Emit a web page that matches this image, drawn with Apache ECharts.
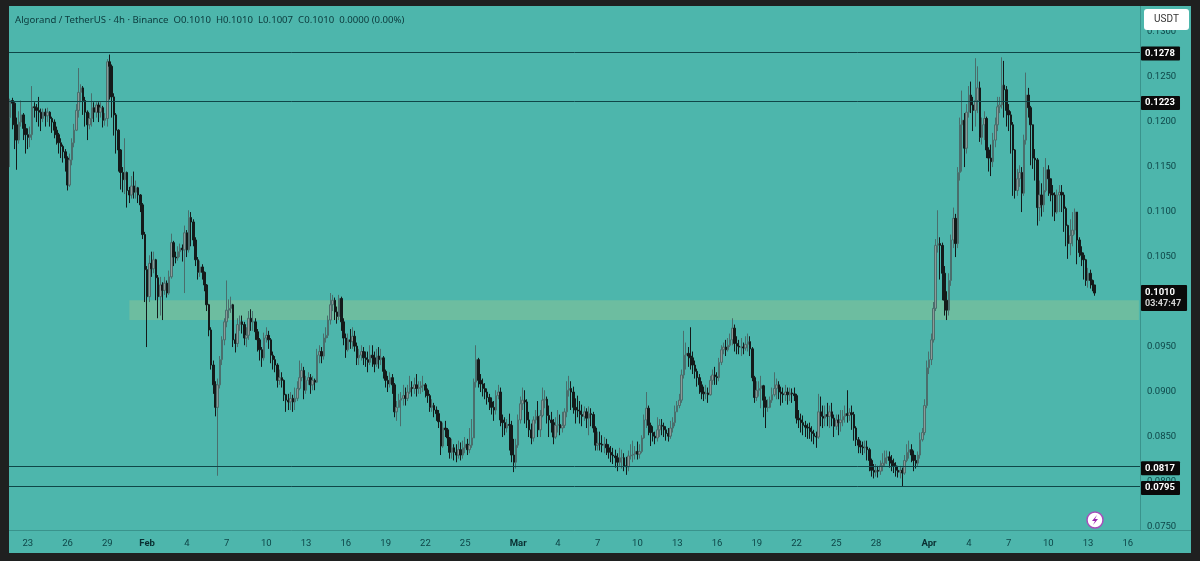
<!DOCTYPE html>
<html>
<head>
<meta charset="utf-8">
<title>ALGOUSDT 4h</title>
<script src="https://cdn.jsdelivr.net/npm/echarts@6/dist/echarts.min.js"></script>
<style>
	html, body { margin: 0; padding: 0; background: #1f2020; }
	#chart { position: absolute; left: 9px; top: 6px; width: 1182px; height: 547px; background: #4db6ac; }
</style>
</head>
<body>
<div id="chart"></div>
<script>
// prices are in ten-thousandths of a USDT, one 4h bar per entry, open = previous close
var firstOpen = 1205;
var closes = [
	1224,1221,1197,1180,1200,1208,1193,1186,1183,1186,
	1217,1216,1213,1211,1204,1211,1207,1211,1204,1200,
	1191,1186,1177,1173,1167,1160,1130,1158,1177,1191,
	1213,1233,1238,1224,1211,1197,1204,1216,1211,1219,
	1211,1216,1202,1204,1267,1262,1228,1208,1191,1169,
	1144,1136,1144,1124,1119,1129,1122,1127,1119,1108,
	1075,1036,1006,1043,1037,1047,1027,1006,1019,1013,
	1021,1010,1028,1066,1050,1049,1056,1060,1058,1077,
	1058,1094,1089,1069,1047,1033,1039,1033,1019,997,
	969,930,908,883,908,936,958,978,991,993,
	997,958,954,975,978,975,960,963,982,978,
	978,967,958,947,938,960,963,958,941,936,
	930,913,916,913,897,891,889,893,889,893,
	904,916,924,902,913,916,908,913,911,941,
	945,940,960,963,980,997,1002,989,984,1004,
	978,960,947,958,956,962,951,938,941,945,
	938,936,933,941,938,931,940,936,938,923,
	913,909,916,908,878,883,891,893,896,893,
	900,905,904,908,904,905,907,908,902,896,
	883,885,880,876,867,840,860,858,849,833,
	838,833,830,836,830,838,842,836,841,849,
	911,936,913,909,904,900,894,889,883,880,
	896,900,869,866,860,864,863,830,822,841,
	869,887,891,889,869,858,849,869,873,858,
	874,891,892,874,869,866,850,863,864,860,
	863,878,902,904,900,883,880,879,875,873,
	878,871,876,875,860,841,843,842,841,842,
	838,833,830,829,827,822,827,827,818,817,
	829,830,831,834,831,834,849,869,882,863,
	855,851,849,858,863,862,858,854,851,860,
	866,878,885,891,919,941,943,940,938,930,
	923,916,908,900,898,899,897,913,919,917,
	916,933,947,950,947,952,958,971,954,951,
	950,950,949,953,956,948,916,894,902,904,
	907,891,883,883,891,897,904,908,900,898,
	897,900,897,899,898,896,871,869,866,863,
	861,860,856,854,851,850,878,873,871,875,
	873,878,871,862,869,866,869,873,876,874,
	877,875,860,847,841,839,838,839,836,824,
	813,811,813,812,818,821,827,828,824,821,
	818,813,811,813,810,824,833,836,830,824,
	821,830,847,855,885,927,936,958,993,1063,
	1065,1063,1032,1002,991,1024,1069,1093,1065,1144,
	1197,1202,1171,1211,1230,1219,1213,1224,1238,1183,
	1197,1204,1169,1160,1156,1180,1197,1217,1219,1241,
	1236,1213,1208,1197,1169,1124,1137,1144,1121,1180,
	1230,1216,1197,1160,1158,1105,1119,1108,1124,1147,
	1137,1121,1119,1100,1119,1122,1119,1104,1085,1065,
	1074,1080,1100,1069,1055,1052,1047,1024,1032,1024,
	1019,1010
];
var highs = [
	1226,1227,1222,1205,1212,1224,1210,1198,1193,1195,
	1240,1222,1220,1228,1215,1215,1215,1216,1212,1206,
	1203,1195,1188,1182,1175,1170,1162,1165,1182,1198,
	1220,1260,1242,1240,1228,1213,1210,1232,1222,1222,
	1222,1222,1218,1210,1270,1275,1264,1232,1210,1192,
	1170,1150,1182,1145,1128,1140,1145,1135,1128,1120,
	1110,1078,1040,1052,1056,1056,1048,1030,1028,1022,
	1028,1024,1035,1076,1068,1056,1062,1065,1064,1085,
	1080,1102,1100,1092,1072,1050,1046,1042,1034,1020,
	998,972,935,912,915,940,962,982,1024,1003,
	1006,998,965,982,985,985,978,972,990,992,
	990,982,970,960,950,966,972,968,960,945,
	940,932,925,922,914,898,898,900,897,905,
	912,935,932,928,918,922,920,918,915,948,
	952,950,965,972,985,1010,1008,1005,995,1008,
	1006,982,965,965,970,972,968,955,948,952,
	950,945,945,952,952,945,948,950,948,940,
	925,918,922,920,910,890,898,900,908,905,
	908,918,912,916,920,912,912,918,910,904,
	898,892,888,884,880,868,866,868,860,850,
	848,842,842,846,844,846,850,848,860,870,
	915,952,938,920,915,910,904,898,894,890,
	902,908,905,875,872,870,876,868,848,848,
	875,895,905,902,892,878,865,873,880,890,
	880,905,902,895,885,878,870,872,880,875,
	878,882,912,918,912,906,893,896,890,886,
	884,882,884,882,878,862,856,856,852,850,
	848,842,840,838,836,832,838,836,832,828,
	835,842,846,840,845,842,852,875,900,885,
	866,862,856,872,870,870,866,862,860,868,
	872,885,890,898,925,968,955,950,972,945,
	935,926,920,912,906,908,905,918,925,928,
	922,938,952,955,958,960,965,982,975,962,
	958,960,955,962,965,962,950,918,912,912,
	918,908,895,892,895,905,922,915,912,906,
	905,908,905,905,904,905,898,880,876,874,
	868,865,866,862,858,856,898,895,885,885,
	888,885,888,875,875,875,880,880,885,902,
	882,885,878,862,850,846,845,846,846,838,
	826,820,820,818,824,832,835,835,834,830,
	826,822,818,818,816,830,842,846,842,835,
	830,834,855,860,892,935,945,965,1000,1070,
	1102,1072,1066,1040,1012,1032,1075,1105,1098,1150,
	1205,1235,1210,1220,1240,1245,1228,1271,1262,1245,
	1205,1212,1206,1172,1175,1188,1205,1228,1228,1272,
	1268,1240,1220,1212,1200,1170,1148,1152,1150,1186,
	1255,1238,1218,1195,1170,1160,1135,1132,1150,1160,
	1152,1136,1130,1122,1125,1130,1130,1122,1106,1086,
	1092,1100,1104,1100,1072,1062,1055,1048,1038,1036,
	1025,1015
];
var lows = [
	1150,1192,1170,1147,1176,1195,1180,1165,1170,1172,
	1180,1205,1200,1195,1190,1200,1195,1200,1195,1188,
	1182,1175,1165,1160,1155,1145,1124,1128,1152,1172,
	1190,1205,1222,1208,1195,1180,1192,1195,1200,1205,
	1200,1205,1194,1196,1195,1225,1205,1185,1165,1145,
	1125,1122,1120,1105,1110,1115,1115,1115,1110,1100,
	1070,1000,950,1000,1028,1032,1002,982,985,980,
	1008,1005,1008,1026,1040,1043,1046,1050,1045,1010,
	1050,1055,1062,1062,1040,1025,1028,1025,1012,990,
	962,925,898,873,807,904,930,952,972,982,
	988,950,944,950,968,965,952,950,958,968,
	968,958,945,935,928,935,955,948,932,925,
	922,905,908,905,890,878,880,880,878,880,
	890,902,912,892,898,908,898,902,902,910,
	932,932,936,955,960,975,990,980,976,980,
	968,952,938,945,948,948,945,930,930,935,
	930,928,922,930,928,922,928,926,930,915,
	905,900,905,898,872,868,885,862,885,885,
	890,898,895,898,895,898,898,900,894,888,
	878,878,872,868,860,830,838,850,840,826,
	826,824,822,826,824,826,832,830,832,838,
	849,905,905,900,895,892,886,880,875,868,
	875,892,862,850,852,855,835,822,811,815,
	838,865,880,865,860,850,842,845,865,850,
	850,872,882,865,850,855,842,848,855,852,
	855,860,872,895,880,876,865,872,865,862,
	868,860,852,862,855,835,835,835,833,832,
	830,826,822,820,816,812,818,815,812,808,
	812,825,822,825,825,826,832,848,860,852,
	840,845,842,845,850,852,850,846,845,848,
	855,862,878,882,888,915,925,928,925,920,
	915,906,898,892,890,892,888,896,908,908,
	908,912,930,942,940,945,950,952,945,942,
	942,940,942,946,945,940,912,888,890,895,
	882,872,860,878,882,888,895,892,892,885,
	888,890,886,890,888,890,865,860,855,852,
	850,848,848,845,842,838,848,862,860,862,
	862,860,862,850,858,852,856,862,866,866,
	868,858,846,840,832,832,830,832,824,812,
	806,804,806,805,808,812,818,820,816,812,
	810,806,805,804,795,808,822,826,822,812,
	815,818,826,845,852,882,920,930,955,990,
	1055,1025,1002,985,980,985,1018,1060,1050,1060,
	1135,1145,1150,1165,1205,1210,1190,1195,1210,1178,
	1175,1180,1160,1145,1140,1150,1172,1190,1210,1215,
	1205,1195,1190,1165,1118,1115,1118,1128,1100,1118,
	1175,1205,1152,1148,1135,1085,1090,1095,1100,1122,
	1118,1112,1095,1090,1098,1100,1100,1078,1062,1048,
	1052,1062,1075,1042,1050,1040,1025,1018,1016,1015,
	1012,1007
];

var tickLabels = ['23', '26', '29', 'Feb', '4', '7', '10', '13', '16', '19', '22', '25', 'Mar', '4', '7', '10', '13', '16', '19', '22', '25', '28', 'Apr', '4', '7', '10', '13', '16'];
var tickDates = ['01-23', '01-26', '01-29', '02-01', '02-04', '02-07', '02-10', '02-13', '02-16', '02-19', '02-22', '02-25', '03-01', '03-04', '03-07', '03-10', '03-13', '03-16', '03-19', '03-22', '03-25', '03-28', '04-01', '04-04', '04-07', '04-10', '04-13', '04-16'];
var priceTicks = [0.075, 0.08, 0.085, 0.09, 0.095, 0.1, 0.105, 0.11, 0.115, 0.12, 0.125, 0.13];
var levels = [0.1278, 0.1223, 0.0817, 0.0795];
var zone = [0.1002, 0.0980];
var lastPrice = 0.1010;
var countdown = '03:47:47';
var titleText = 'Algorand / TetherUS · 4h · Binance  O0.1010  H0.1010  L0.1007  C0.1010  0.0000 (0.00%)';

var slotCount = 512; // axis runs on past the last bar
var categories = [];
var tickByDate = {};
tickDates.forEach(function(d, i) {
	tickByDate[d] = tickLabels[i];
});
for (var s = 0; s < slotCount; s++) {
	var t = new Date(Date.UTC(2026, 0, 21, 16 + s * 4));
	var mm = ('0' + (t.getUTCMonth() + 1)).slice(-2);
	var dd = ('0' + t.getUTCDate()).slice(-2);
	var hh = ('0' + t.getUTCHours()).slice(-2);
	categories.push(mm + '-' + dd + ' ' + hh);
}

function tickFor(cat) {
	return cat.slice(-2) === '00' ? tickByDate[cat.slice(0, 5)] : undefined;
}

var candles = closes.map(function(c, i) {
	var o = i ? closes[i - 1] : firstOpen;
	return [o / 10000, c / 10000, lows[i] / 10000, highs[i] / 10000];
});

var inkColor = '#0e4648';

var levelLines = levels.map(function(v) {
	return {
		yAxis: v,
		label: {
			offset: [0, 1.5],
			formatter: v.toFixed(4)
		}
	};
});
levelLines.push({
	yAxis: lastPrice,
	lineStyle: {
		color: 'rgba(0,0,0,0)'
	},
	label: {
		offset: [0, 5],
		padding: [2, 6, 2, 4],
		lineHeight: 11,
		formatter: '{p|' + lastPrice.toFixed(4) + '}\n{t|' + countdown + '}',
		rich: {
			p: { color: '#fff', fontSize: 9.5, fontWeight: 'bold', fontFamily: 'Roboto' },
			t: { color: '#d5d5d5', fontSize: 9, fontFamily: 'Roboto' }
		}
	}
});

var chart = echarts.init(document.getElementById('chart'));
chart.setOption({
	animation: false,
	textStyle: {
		fontFamily: 'Roboto'
	},
	title: {
		text: titleText,
		left: 6,
		top: 9,
		padding: 0,
		textStyle: {
			color: '#0c3a3c',
			fontSize: 9.6,
			fontWeight: 'normal',
			fontFamily: 'Noto Sans'
		}
	},
	grid: {
		left: 0,
		top: 0,
		width: 1131,
		height: 524
	},
	xAxis: {
		type: 'category',
		data: categories,
		axisLine: {
			lineStyle: { color: '#3a938c', width: 1 }
		},
		axisTick: { show: false },
		splitLine: { show: false },
		axisLabel: {
			color: inkColor,
			fontSize: 9.5,
			margin: 9,
			hideOverlap: false,
			interval: function(index, value) {
				return tickFor(value) !== undefined;
			},
			formatter: function(value) {
				var label = tickFor(value);
				return /[A-Z]/.test(label) ? '{b|' + label + '}' : label;
			},
			rich: {
				b: { color: '#0a2f31', fontWeight: 'bold', fontSize: 9.5, fontFamily: 'Roboto' }
			}
		}
	},
	yAxis: {
		type: 'value',
		position: 'right',
		min: 0.07467,
		max: 0.1329,
		axisLine: {
			show: true,
			lineStyle: { color: '#3a938c', width: 1 }
		},
		axisTick: { show: false },
		splitLine: { show: false },
		axisLabel: {
			color: inkColor,
			fontSize: 9.5,
			margin: 7,
			padding: [2, 0, 0, 0],
			customValues: priceTicks,
			formatter: function(v) {
				return v.toFixed(4);
			}
		}
	},
	series: [{
		type: 'candlestick',
		data: candles,
		barWidth: 2,
		clip: false,
		itemStyle: {
			color: '#8d9a98',
			color0: '#141a1a',
			borderColor: '#4a6e6c',
			borderColor0: '#141a1a',
			borderWidth: 1
		},
		markArea: {
			silent: true,
			itemStyle: {
				color: '#6dbda0'
			},
			data: [[{
				xAxis: categories[54],
				yAxis: zone[0]
			}, {
				xAxis: categories[slotCount - 1],
				yAxis: zone[1]
			}]]
		},
		markLine: {
			silent: true,
			symbol: 'none',
			animation: false,
			precision: 4,
			lineStyle: {
				color: '#0f4648',
				type: 'solid',
				width: 1
			},
			label: {
				show: true,
				position: 'end',
				distance: 1,
				color: '#fff',
				backgroundColor: '#0a0a0a',
				borderRadius: 1,
				padding: [2, 5, 2, 4],
				fontSize: 9.5,
				fontWeight: 'bold',
				fontFamily: 'Roboto'
			},
			data: levelLines
		}
	}],
	graphic: [{
		type: 'rect',
		shape: { x: 1131, y: 524, width: 51, height: 1 },
		style: { fill: '#3a938c' },
		silent: true
	}, {
		type: 'rect',
		z: 50,
		shape: { x: 1135, y: 3, width: 45, height: 21, r: 3 },
		style: { fill: '#fff' },
		silent: true
	}, {
		type: 'text',
		z: 51,
		x: 1157.5,
		y: 13.5,
		style: { text: 'USDT', fill: '#333', fontSize: 10, fontFamily: 'Roboto', align: 'center', verticalAlign: 'middle' },
		silent: true
	}, {
		type: 'circle',
		z: 50,
		shape: { cx: 1086, cy: 514, r: 8 },
		style: { fill: '#fff', stroke: '#a64dbb', lineWidth: 1.5 },
		silent: true
	}, {
		type: 'polygon',
		z: 51,
		shape: { points: [[1088, 509], [1083, 515], [1086, 515], [1084, 519], [1089, 513], [1086, 513]] },
		style: { fill: '#9c27b0' },
		silent: true
	}]
});
</script>
</body>
</html>
